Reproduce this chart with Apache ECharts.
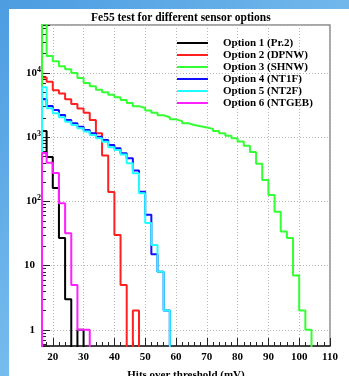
<!DOCTYPE html>
<html>
<head>
<meta charset="utf-8">
<script src="https://cdn.jsdelivr.net/npm/echarts@6/dist/echarts.min.js"></script>
<style>
  html, body { margin: 0; padding: 0; }
  #chart { width: 349px; height: 376px; }
</style>
</head>
<body>
<div id="chart"></div>
<script>
// Fe55 hit spectra, 2 mV bins starting at 16 mV (counts per bin)
const titleText = 'Fe55 test for different sensor options';
const xAxisTitle = 'Hits over threshold (mV)';
const BIN_START = 16;
const BIN_WIDTH = 2;

const seriesNames = [
  'Option 1 (Pr.2)',
  'Option 2 (DPNW)',
  'Option 3 (SHNW)',
  'Option 4 (NT1F)',
  'Option 5 (NT2F)',
  'Option 6 (NTGEB)'
];
const seriesColors = ['#000000', '#ff2020', '#33ff33', '#1010ff', '#20ffff', '#ff20ff'];

const option1 = [1250, 490, 162, 27, 3, 0, 1];
const option2 = [8500, 7300, 5400, 4800, 3900, 3300, 2800, 2400, 1850, 1150, 520, 140, 30, 5, 0, 2];
const option3 = [90000, 18500, 15200, 12700, 11500, 10000, 8400, 7000, 6200, 5500,
                 5000, 4600, 4200, 3800, 3400, 3050, 2850, 2600, 2400, 2200,
                 2050, 1900, 1780, 1650, 1550, 1480, 1420, 1350, 1250, 1150,
                 1050, 960, 860, 740, 590, 385, 216, 126, 69, 34,
                 27, 7, 2, 1];
const option4 = [3900, 3060, 2650, 2220, 1850, 1650, 1450, 1300, 1150, 1020,
                 906, 757, 673, 562, 470, 302, 142, 62, 15, 8, 2];
const option5 = [6000, 2830, 2360, 2040, 1750, 1550, 1380, 1230, 1080, 960,
                 850, 700, 630, 540, 393, 275, 134, 46, 21, 8, 2];
const option6 = [570, 400, 277, 94, 32, 5, 1, 1];

const allCounts = [option1, option2, option3, option4, option5, option6];

const X_MIN = 16.5, X_MAX = 110;
const Y_MIN = 0.56, Y_MAX = 56000;
const FLOOR = 0.1; // empty bins sit below the log axis and get clipped

// Turn bin counts into an outlined histogram path (left edges clamped to the frame)
function histPath(counts) {
  const pts = [[X_MIN, FLOOR]];
  counts.forEach((c, i) => {
    const left = Math.max(BIN_START + i * BIN_WIDTH, X_MIN);
    pts.push([left, c > 0 ? c : FLOOR]);
  });
  pts.push([BIN_START + counts.length * BIN_WIDTH, FLOOR]);
  return pts;
}

const serif = '"Liberation Serif", "DejaVu Serif", serif';

const chart = echarts.init(document.getElementById('chart'), null, { renderer: 'canvas' });

chart.setOption({
  animation: false,
  backgroundColor: {
    type: 'linear', x: 0, y: 0, x2: 1, y2: 1,
    colorStops: [{ offset: 0, color: '#4c9ce1' }, { offset: 1, color: '#9ad6f7' }]
  },
  graphic: [{
    type: 'rect', z: -10, silent: true,
    shape: { x: 9, y: 9, width: 340, height: 367 },
    style: { fill: '#ffffff' }
  }],
  title: {
    text: titleText,
    left: 91, top: 12, padding: 0,
    textStyle: { fontFamily: serif, fontWeight: 'bold', fontSize: 11.5, color: '#000' }
  },
  legend: {
    orient: 'vertical',
    left: 177, top: 37, padding: 0,
    icon: 'rect',
    itemWidth: 31, itemHeight: 2,
    itemGap: 0,
    selectedMode: false,
    data: seriesNames,
    textStyle: {
      fontFamily: serif, fontWeight: 'bold', fontSize: 11, color: '#000',
      lineHeight: 12, padding: [0, 0, 0, 10]
    }
  },
  grid: {
    left: 42, right: 19, top: 25, bottom: 30,
    containLabel: false,
    outerBoundsMode: 'none',
    show: true, backgroundColor: '#ffffff', borderColor: '#8a8a8a', borderWidth: 1.5
  },
  xAxis: {
    type: 'value', min: X_MIN, max: X_MAX, splitNumber: 9,
    name: xAxisTitle, nameLocation: 'middle', nameGap: 24,
    nameTextStyle: { fontFamily: serif, fontWeight: 'bold', fontSize: 11, color: '#000' },
    axisLine: { show: true, onZero: false, lineStyle: { color: '#222', width: 1.5 } },
    axisTick: { show: true, inside: true, length: 8, lineStyle: { color: '#222' } },
    minorTick: { show: true, splitNumber: 5, length: 4, lineStyle: { color: '#222' } },
    axisLabel: {
      showMinLabel: false, showMaxLabel: true, margin: 6,
      fontFamily: serif, fontWeight: 'bold', fontSize: 11, color: '#000'
    },
    splitLine: { show: true, lineStyle: { color: '#b8b8b8', type: [1, 2], width: 1 } }
  },
  yAxis: {
    type: 'log', logBase: 10, min: Y_MIN, max: Y_MAX,
    axisLine: { show: true, lineStyle: { color: '#222', width: 1.5 } },
    axisTick: { show: true, inside: true, length: 8, lineStyle: { color: '#222' } },
    minorTick: { show: true, splitNumber: 9, length: 4, lineStyle: { color: '#222' } },
    axisLabel: {
      margin: 1,
      showMinLabel: false, showMaxLabel: false,
      formatter: function (v) {
        const lg = Math.log10(v);
        const e = Math.round(lg);
        if (Math.abs(lg - e) > 1e-6) return '';
        if (e === 0) return '{b|1}{gap|}';
        if (e === 1) return '{b|10}{gap|}';
        return '{b|10}{e|' + e + '}';
      },
      rich: {
        b: { fontFamily: serif, fontWeight: 'bold', fontSize: 11, color: '#000', lineHeight: 14 },
        e: { fontFamily: serif, fontWeight: 'bold', fontSize: 8, color: '#000', verticalAlign: 'top', lineHeight: 8 },
        gap: { width: 6 }
      }
    },
    splitLine: { show: true, lineStyle: { color: '#b8b8b8', type: [1, 2], width: 1 } }
  },
  series: allCounts.map((counts, i) => ({
    name: seriesNames[i],
    type: 'line',
    step: 'end',
    data: histPath(counts),
    showSymbol: false,
    symbol: 'none',
    clip: true,
    color: seriesColors[i],
    lineStyle: { color: seriesColors[i], width: 2 }
  }))
});
</script>
</body>
</html>
